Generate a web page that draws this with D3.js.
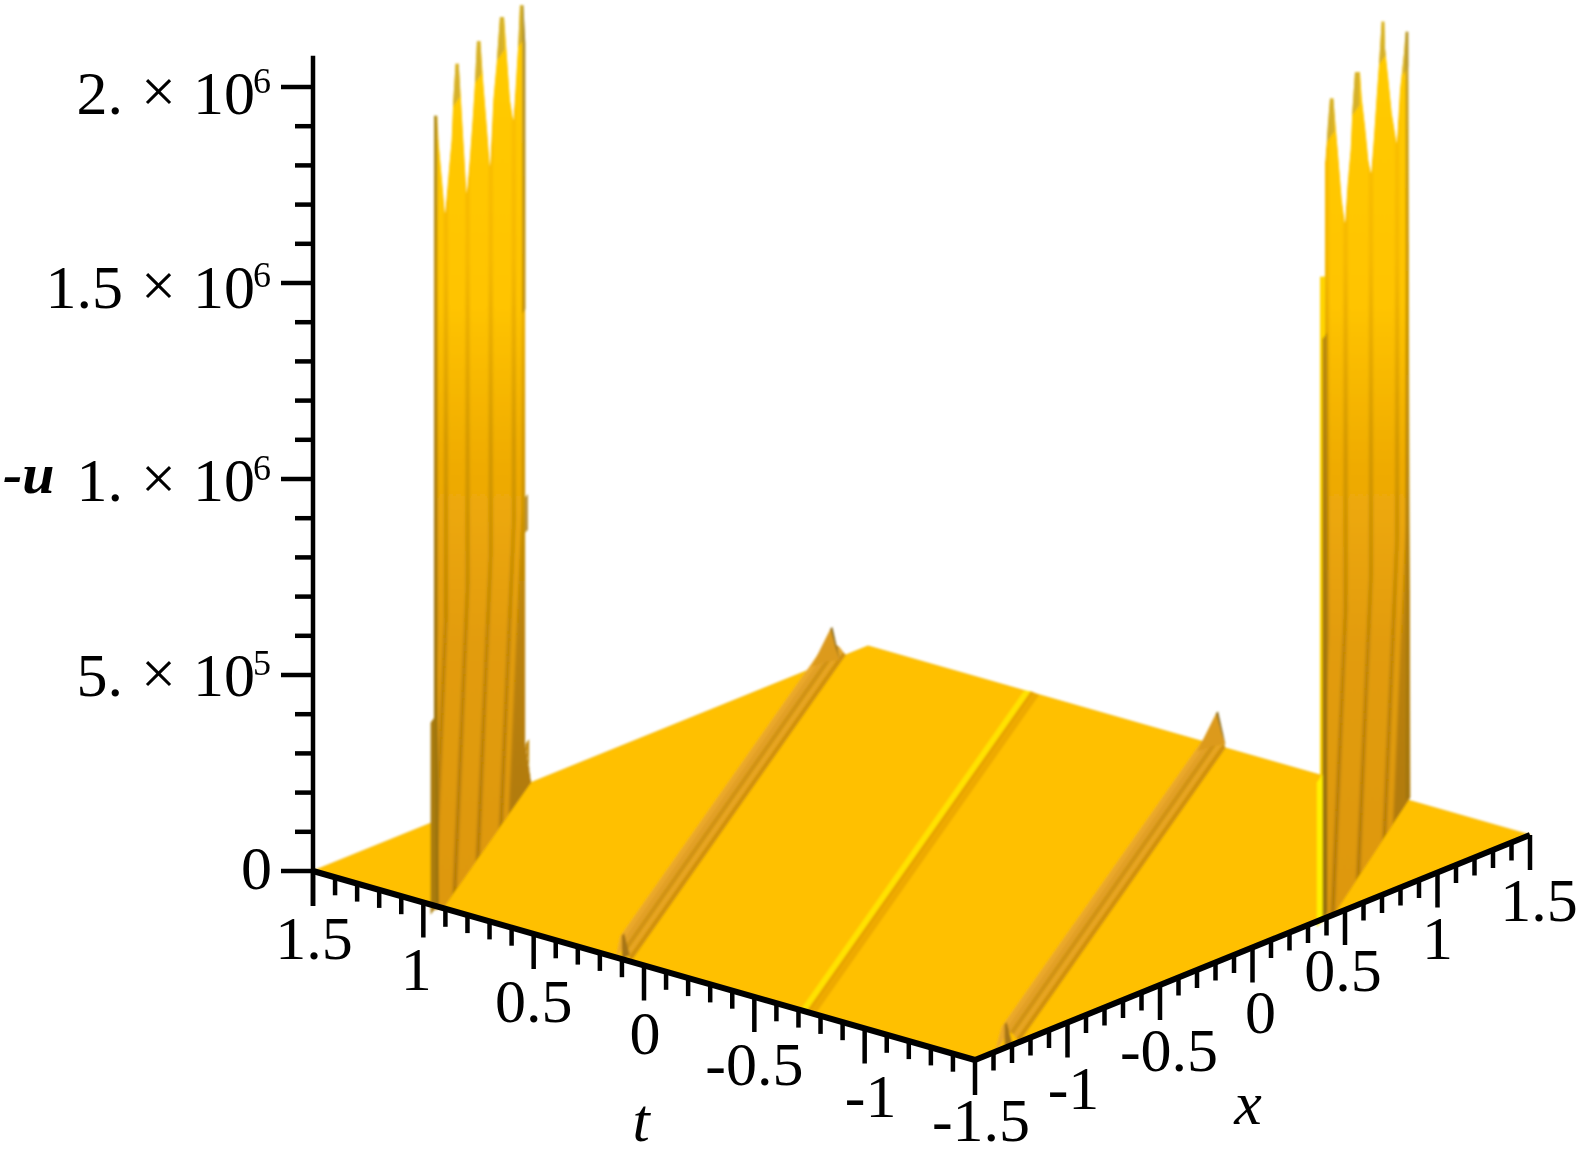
<!DOCTYPE html>
<html><head><meta charset="utf-8">
<style>html,body{margin:0;padding:0;background:#fff}svg{display:block}text{font-family:"Liberation Serif",serif;fill:#000}</style>
<script src="https://cdn.jsdelivr.net/npm/d3@7"></script></head><body><div id="c"></div>
<script>
// axis values
const xTicks=[-1.5,-1,-0.5,0,0.5,1,1.5];
const xTickLabels=["-1.5","-1","-0.5","0","0.5","1","1.5"];
const tTicks=[1.5,1,0.5,0,-0.5,-1];
const tTickLabels=["1.5","1","0.5","0","-0.5","-1"];
const uTicks=[0,5e5,1e6,1.5e6,2e6];
const uMantissa=["0","5.","1.","1.5","2."];
const uExponent=["","5","6","6","6"];
// left spike wall: along-ridge x and -u (millions) of its jagged crest
const leftWallC=1.69;
const leftWallX=[-1.535,-1.49,-1.472,-1.432,-1.387,-1.343,-1.298,-1.276,-1.245,-1.204,-1.173,-1.142,-1.097,-1.053,-1.017,-0.986,-0.959,-0.914,-0.874,-0.82,-0.785,-0.74,-0.695,-0.651,-0.597,-0.561,-0.517,-0.472,-0.436,-0.405,-0.383,-0.338,-0.311];
const leftWallU=[2.026,2.014,1.938,1.842,1.736,1.818,1.899,1.995,2.08,2.069,1.967,1.857,1.709,1.79,1.874,1.959,2.06,2.048,1.929,1.786,1.692,1.85,1.931,2.038,2.023,1.92,1.789,1.726,1.818,1.903,1.995,1.983,1.878];
// right spike wall
const rightWallC=-1.69;
const rightWallX=[0.342,0.374,0.409,0.409,0.445,0.476,0.521,0.552,0.579,0.633,0.677,0.709,0.753,0.776,0.811,0.878,0.901,0.945,0.99,1.026,1.066,1.102,1.137,1.169,1.204,1.213,1.258,1.303,1.37,1.414,1.468,1.49,1.526];
const rightWallU=[1.649,1.64,1.631,1.92,2.003,2.067,2.055,1.974,1.908,1.766,1.694,1.779,1.86,1.952,2.043,2.025,1.952,1.868,1.77,1.727,1.809,1.902,1.986,2.075,2.065,1.995,1.902,1.805,1.71,1.834,1.913,1.962,1.952];
// lit bands of the walls: pairs of x at the crest
const leftLit=[-1.49,-1.40,-1.35,-1.11,-1.06,-0.80,-0.75,-0.49,-0.44,-0.36];
const rightLit=[0.46,0.66,0.71,1.0,1.05,1.35,1.40,1.49];
// low ridges: line c of the front foot, cross-section offsets and heights (millions)
const lowRidgeC=[0.81,-0.87];
const lowRidgeDc=[0.066,0.048,0.036,0.026,0.016,0.008,0];
const lowRidgeU=[0,0.056,0.047,0.036,0.025,0.012,0];
const midRidgeDc=[0.042,0.012,-0.004,-0.026];
const midRidgeU=[0,0.003,0.002,0];
const capU=0.085;
// colours of the bands above
const ridgeCols=["#eaa82c","#eaa82c","#e2a026","#d09216","#e6a420","#d09010"];
const midCols=["#ffe200","#e8a400","#eeaa00"];

// label nudges (px)
const tLabelDx=[1,-7,0,1,0,6], tLabelDy=[0,-1,0,0,0,0];
const xLabelDx=[6,6,9,8,-2,0,9], xLabelDy=[-5,0,0,-1,-5,0,0];
const uLabelDy=[18,21,22,25,27];

const W=1577,H=1155;
const uY=d3.scaleLinear([0,2e6],[0,-784]);
const xPX=d3.scaleLinear([-1.5,1.5],[0,555]), xPY=d3.scaleLinear([-1.5,1.5],[0,-225]);
const tPX=d3.scaleLinear([1.5,-1.5],[0,662]), tPY=d3.scaleLinear([1.5,-1.5],[0,189]);
const O=[313,871];
const proj=(x,t,u=0)=>[O[0]+xPX(x)+tPX(t),O[1]+xPY(x)+tPY(t)+uY(u)];
const onRidge=(x,c,um=0)=>proj(x,0.5*x+c,um*1e6);
const line2=d3.line();
const closed=p=>line2(p)+"Z";

const svg=d3.select("#c").append("svg").attr("width",W).attr("height",H).attr("viewBox",[0,0,W,H]);
const defs=svg.append("defs");
function blur(id,s){defs.append("filter").attr("id",id).attr("filterUnits","userSpaceOnUse").attr("x",0).attr("y",0).attr("width",W).attr("height",H).append("feGaussianBlur").attr("stdDeviation",s);}
blur("soft",0.9);blur("softer",0.5);blur("bands",1.1);
function grad(id,stops){
  const g=defs.append("linearGradient").attr("id",id).attr("gradientUnits","userSpaceOnUse").attr("x1",0).attr("x2",0).attr("y1",0).attr("y2",920);
  stops.forEach(([o,c])=>g.append("stop").attr("offset",o).attr("stop-color",c));
}
grad("wl",[[0,"#ffcc00"],[0.33,"#ffc400"],[0.5,"#f0ac05"],[0.7,"#e29c0e"],[1,"#de9810"]]);
grad("wd",[[0,"#ffc400"],[0.28,"#f4b600"],[0.48,"#d09604"],[0.7,"#bb8208"],[1,"#ab7608"]]);
grad("edge",[[0,"#a89038"],[0.3,"#c09008"],[0.6,"#a87a0a"],[1,"#94700a"]]);

const surf=svg.append("g").attr("filter","url(#soft)");
// floor
surf.append("path").attr("d",closed([proj(-1.5,1.5),proj(1.5,1.5),proj(1.5,-1.5),proj(-1.5,-1.5)])).attr("fill","#ffc000").attr("stroke","#f4b800").attr("stroke-width",1);

// a straight ridge is cut where it meets the floor's edges
const xFrom=c=>Math.max(-1.5,2*(-1.5-c));
const xTo=c=>Math.min(1.5,2*(1.5-c));
function strips(g,c,Dc,Us,cols){
  Dc.slice(0,-1).forEach((d,i)=>{
    const c1=c+d,c2=c+Dc[i+1];
    g.append("path").attr("d",closed([
      onRidge(xFrom(c1),c1,Us[i]),onRidge(xTo(c1),c1,Us[i]),
      onRidge(xTo(c2),c2,Us[i+1]),onRidge(xFrom(c2),c2,Us[i+1])])).attr("fill",cols[i]);
  });
}
function lowRidge(c){
  const g=surf.append("g"), cr=c+0.04, x0=xFrom(cr), x1=xTo(cr);
  strips(g,c,lowRidgeDc,lowRidgeU,ridgeCols);
  // crest rises to the far end
  g.append("path").attr("d",closed([onRidge(x1-0.26,cr,0.056),onRidge(x1,cr,capU),onRidge(x1+0.01,cr-0.012,capU*0.55),onRidge(x1+0.03,cr-0.03,0),onRidge(x1-0.1,cr-0.02,0.03)])).attr("fill","#dc9a1c");
  g.append("path").attr("d",closed([onRidge(x1-0.008,cr,capU),onRidge(x1+0.008,cr-0.004,capU),onRidge(x1+0.03,cr-0.03,0),onRidge(x1+0.01,cr-0.02,0.03)])).attr("fill","#8f7020");
  // near end spike
  g.append("path").attr("d",closed([onRidge(x0,cr),onRidge(x0,cr,capU*0.72),onRidge(x0+0.018,cr-0.004,capU*0.72),onRidge(x0+0.05,cr-0.018)])).attr("fill","#a67418");
}
lowRidge(lowRidgeC[0]);
strips(surf.append("g"),0,midRidgeDc,midRidgeU,midCols);
lowRidge(lowRidgeC[1]);

function wall(id,c,X,U,lit,foot){
  const crest=X.map((x,i)=>onRidge(x,c,U[i]));
  const pts=[onRidge(X[0],c,0),...crest,...foot];
  defs.append("clipPath").attr("id",id).append("path").attr("d",closed(pts));
  const g=surf.append("g").attr("clip-path",`url(#${id})`);
  g.append("path").attr("d",closed(pts)).attr("fill","url(#wd)");
  const b=g.append("g").attr("filter","url(#bands)");
  d3.range(0,lit.length,2).forEach(i=>{
    const s=lit[i],e=lit[i+1];
    b.append("path").attr("d",closed([onRidge(s,c,2.3),onRidge(e,c,2.3),onRidge(e,c,0.7),onRidge(e-0.19,c,-0.1),onRidge(s-0.19,c,-0.1),onRidge(s,c,0.7)])).attr("fill","url(#wl)");
  });
  // spike tips are greyer
  X.forEach((x,i)=>{
    if(i===0||i>=X.length-1)return;
    if(U[i]>=U[i-1]&&U[i]>1.96&&U[i]>=U[i+1]){
      const m=U[i]-0.1;
      g.append("path").attr("d",closed([onRidge(x-0.04,c,U[i]+0.03),onRidge(x+0.06,c,U[i]+0.03),onRidge(x+0.06,c,m),onRidge(x-0.04,c,m)])).attr("fill","#c4a73a").attr("opacity",0.7);
    }
  });
  return g;
}
const fl=leftWallC-0.03, fr=rightWallC-0.03;
const lw=wall("lw",leftWallC,leftWallX,leftWallU,leftLit,[onRidge(-0.311,leftWallC,0.09),onRidge(-0.32,fl,0),onRidge(-1.5,fl,0)]);
// left wall: dark outer edges and the steps beside them
lw.append("path").attr("d",closed([onRidge(-1.54,leftWallC,0),onRidge(-1.54,leftWallC,2.05),onRidge(-1.49,leftWallC,2.05),onRidge(-1.49,leftWallC,0.6),onRidge(-1.47,leftWallC,0)])).attr("fill","url(#edge)");
lw.append("path").attr("d",closed([onRidge(-0.35,leftWallC,2.1),onRidge(-0.30,leftWallC,2.1),onRidge(-0.30,leftWallC,1.2),onRidge(-0.35,leftWallC,1.2)])).attr("fill","url(#edge)");
surf.append("path").attr("d",closed([onRidge(-1.58,leftWallC,0),onRidge(-1.58,leftWallC,0.49),onRidge(-1.53,leftWallC,0.49),onRidge(-1.5,leftWallC,0)])).attr("fill","#a97b08");
surf.append("path").attr("d",closed([onRidge(-0.311,leftWallC,0.72),onRidge(-0.28,leftWallC,0.72),onRidge(-0.28,leftWallC,0.63),onRidge(-0.311,leftWallC,0.63)])).attr("fill","#a67a10");
surf.append("path").attr("d",closed([onRidge(-0.311,leftWallC,0.09),onRidge(-0.26,leftWallC,0.09),onRidge(-0.26,leftWallC,0.02),onRidge(-0.32,fl,0)])).attr("fill","#c48a0a");

const rw=wall("rw",rightWallC,rightWallX,rightWallU,rightLit,[onRidge(1.526,rightWallC-0.01,0),onRidge(0.44,fr,0)]);
rw.append("path").attr("d",closed([onRidge(1.49,rightWallC,2.1),onRidge(1.53,rightWallC,2.1),onRidge(1.53,rightWallC,0),onRidge(1.49,rightWallC,0)])).attr("fill","url(#edge)").attr("opacity",0.75);
// right wall: bright then dark stripe on its near edge
rw.append("path").attr("d",closed([onRidge(0.34,rightWallC,1.7),onRidge(0.41,rightWallC,1.7),onRidge(0.41,rightWallC,0),onRidge(0.34,rightWallC,0)])).attr("fill","#ffd400");
rw.append("path").attr("d",closed([onRidge(0.375,rightWallC,1.48),onRidge(0.44,rightWallC,1.48),onRidge(0.44,rightWallC,0),onRidge(0.375,rightWallC,0)])).attr("fill","url(#edge)");
surf.append("path").attr("d",closed([onRidge(0.30,rightWallC,0),onRidge(0.30,rightWallC,0.37),onRidge(0.375,rightWallC,0.37),onRidge(0.375,rightWallC,0)])).attr("fill","#fff000");

// axes
const ax=svg.append("g").attr("filter","url(#softer)").attr("stroke","#000").attr("fill","none").attr("stroke-linecap","butt");
const major=35,minor=18;
function seg(a,b,w=4){ax.append("path").attr("d",line2([a,b])).attr("stroke-width",w);}
seg(proj(-1.5,1.5),proj(-1.5,-1.5),6);
seg(proj(-1.5,-1.5),proj(1.5,-1.5),6);
seg([O[0],O[1]+uY(2.08e6)],[O[0],O[1]+major],4.5);
d3.range(0,30).forEach(i=>{const t=1.5-i*0.1,p=proj(-1.5,t);const m=i%5===0;seg(p,[p[0],p[1]+(m?major:minor)],4.5);});
d3.range(0,31).forEach(i=>{const x=-1.5+i*0.1,p=proj(x,-1.5);const m=i%5===0;seg(p,[p[0],p[1]+(m?major:minor)],4.5);});
d3.range(0,21).forEach(i=>{const u=i*1e5,y=O[1]+uY(u);const m=i%5===0;seg([O[0],y],[O[0]-(m?32:18),y],4.5);});

// labels
const fs=62;
const txt=svg.append("g").attr("font-size",fs);
tTicks.forEach((t,i)=>{const p=proj(-1.5,t);txt.append("text").attr("x",p[0]+tLabelDx[i]).attr("y",p[1]+88+tLabelDy[i]).attr("text-anchor","middle").text(tTickLabels[i]);});
xTicks.forEach((x,i)=>{const p=proj(x,-1.5);txt.append("text").attr("x",p[0]+xLabelDx[i]).attr("y",p[1]+86+xLabelDy[i]).attr("text-anchor","middle").text(xTickLabels[i]);});
uTicks.forEach((u,i)=>{
  const y=O[1]+uY(u)+uLabelDy[i];
  if(!uExponent[i]){txt.append("text").attr("x",272).attr("y",y).attr("text-anchor","end").text(uMantissa[i]);return;}
  txt.append("text").attr("x",123).attr("y",y).attr("text-anchor","end").text(uMantissa[i]);
  txt.append("text").attr("x",158.5).attr("y",y-2).attr("text-anchor","middle").text("×");
  txt.append("text").attr("x",193).attr("y",y).text("10");
  txt.append("text").attr("x",253).attr("y",y-21).attr("font-size",36).text(uExponent[i]);
});
txt.append("text").attr("x",641).attr("y",1141).attr("text-anchor","middle").attr("font-style","italic").text("t");
txt.append("text").attr("x",1248).attr("y",1124).attr("text-anchor","middle").attr("font-style","italic").text("x");
txt.append("text").attr("x",3).attr("y",493).attr("font-size",58).attr("font-style","italic").attr("font-weight","bold").text("-u");
</script></body></html>
